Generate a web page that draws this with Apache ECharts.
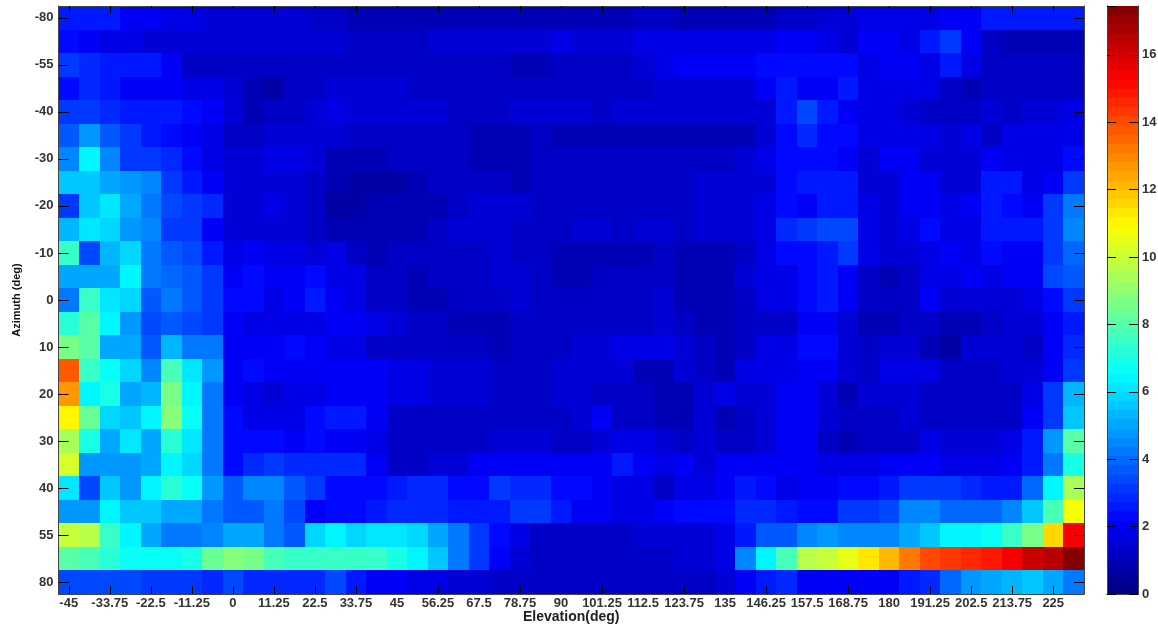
<!DOCTYPE html>
<html>
<head>
<meta charset="utf-8">
<style>html,body{margin:0;padding:0;background:#fff}#c{width:1158px;height:625px}</style>
<script src="https://cdn.jsdelivr.net/npm/echarts@6/dist/echarts.min.js"></script>
</head>
<body>
<div id="c"></div>
<script>
const elevation = ["-45","-39.375","-33.75","-28.125","-22.5","-16.875","-11.25","-5.625","0","5.625","11.25","16.875","22.5","28.125","33.75","39.375","45","50.625","56.25","61.875","67.5","73.125","78.75","84.375","90","95.625","101.25","106.875","112.5","118.125","123.75","129.375","135","140.625","146.25","151.875","157.5","163.125","168.75","174.375","180","185.625","191.25","196.875","202.5","208.125","213.75","219.375","225","230.625"];
const azimuth = ["-80","-65","-55","-45","-40","-35","-30","-25","-20","-15","-10","-5","0","5","10","15","20","25","30","35","40","45","55","65","80"];
const colorbarTicks = [0,2,4,6,8,10,12,14,16];
const maxValue = 17.45;

const az_m80 = [2.6,2.6,2.6,2.1,2.1,1.8,1.8,1.5,1.5,1.5, 1.5,1.5,1.2,1.2,1,1,1,1,1,1, 1,1,1,1,1,1,1,1,1.3,1.3, 1,1,1,1,1,1.3,1.3,1.5,1.5,1.8, 1.8,1.8,1.8,2,2,2.6,2.6,2.6,2.6,2.6];
const az_m65 = [2.2,2.1,1.8,1.8,1.6,1.6,1.4,1.4,1.4,1.4, 1.4,1.4,1.6,1.5,1.1,1.1,1.1,1.1,1.4,1.4, 1.4,1.4,1.4,1.4,1.9,1.5,1.5,1.5,1.7,1.7, 1.7,1.7,1.9,1.9,1.9,2.1,2.1,1.9,1.6,2.1, 2.1,1.8,2.5,3,2.1,1.1,.9,.9,.9,.9];
const az_m55 = [3.2,2.8,2.5,2.5,2.5,2,1.3,1.1,1.1,1.1, 1.1,1.3,1.1,1.15,1.15,1.15,1.15,1.15,1.15,1.15, 1.15,1.15,.85,.85,1.1,1.1,1.1,1.1,1.4,1.8, 2,2,2,2,2.3,2.3,2.3,2.3,2.3,1.9, 2.1,2.1,1.9,2.5,1.7,1.3,1.1,1.1,1.1,1.3];
const az_m45 = [2.4,2.9,2.7,2.1,2,2,1.7,1.7,1.4,.9, .7,1.2,1.1,1.6,1.6,1.6,1.6,1.2,1.2,1.2, 1.2,1.2,1.2,1.2,1.2,1.2,1.2,1.2,1.2,1.4, 1.4,1.4,1.4,1.6,2,2.6,2.1,2.1,2.6,1.9, 1.9,1.9,1.9,1.3,1,1.3,1.3,1.3,1.3,1.3];
const az_m40 = [3,3,2.8,2.6,2.6,2.6,2.3,2.1,1.4,1, 1.2,1.2,1.6,1.8,1.6,1.6,1.6,1.6,1.6,1.2, 1.2,1.2,1.5,1.5,1.5,1.5,1.2,1.5,1.5,1.5, 1.5,1.5,1.4,1.4,1.5,2.5,3.5,2.6,2.1,1.9, 1.9,1.6,1.3,1.3,1.1,1.6,1.3,1.6,1.6,1.9];
const az_m35 = [3.7,4.8,3.7,3,2.5,2.2,2,1.8,1.3,1.3, 1.4,1.5,1.4,1.5,1.2,1.2,1.2,1.2,1.2,1.2, .95,.95,.95,1.2,.9,.9,.9,.9,.9,.9, .9,1,1,1,1.4,2.3,2.8,2.2,2.2,1.9, 1.9,1.9,1.9,1.4,1.9,1.2,1.7,1.7,1.7,1.7];
const az_m30 = [4.6,6.3,4.4,3.2,3.2,2.8,2.2,1.8,1.4,1.4, 1.8,1.8,1.4,1,1,1,1.2,1.2,1.2,1.2, .95,.95,.95,1.2,1.2,1.2,1.2,1.2,1.2,1.2, 1.2,1.1,1.2,1.4,1.9,2.3,2.3,2.3,2.1,1.5, 2.1,2.1,1.5,1.5,1.5,2,1.8,1.8,1.8,2.2];
const az_m25 = [5.5,5.7,5,4.9,4.4,3,2.5,2,1.5,1.5, 1.5,1.5,1.1,1,.7,.7,.7,.95,1.2,1.2, 1.2,1.2,.95,1.2,1.2,1.2,1.2,1.2,1.2,1.2, 1.2,1.4,1.4,1.4,1.5,2.2,2.6,2.6,2.6,1.6, 1.4,2,2,1.5,1.5,2.5,2.5,1.8,2.1,3.2];
const az_m20 = [3.1,5.6,6.2,5.1,4.2,3.4,3.2,2.8,1.4,1.4, 1.8,1.5,1.1,.6,.6,.9,.9,.9,.9,1.1, 1.4,1.4,1.4,1.2,1.2,1.2,1.2,1.2,1.2,1.2, 1.2,1.4,1.4,1.4,1.8,2.3,2,2.6,2.6,1.8, 1.5,2.1,2.1,1.8,2.1,2.7,2.3,2.1,3,4.3];
const az_m15 = [5.4,6.2,5.8,4.7,4.6,3.1,3.1,2.1,1.4,1.4, 1.6,1.6,1.2,.95,.95,.95,.95,.95,1.2,1.45, 1.45,1.45,1.2,1.2,1.2,1.5,1.5,1.2,1.5,1.5, 1.2,1.45,1.5,1.5,1.8,2.9,3.1,3.3,3.3,1.9, 1.6,1.8,2.2,1.7,1.7,2.7,2.7,2.7,3,4.6];
const az_m10 = [7.4,3.5,5.4,5.9,4.1,3.6,3.4,2.7,1.7,2, 1.9,1.9,1.4,1.7,1.3,.95,1.3,1.3,1.3,1.3, 1.3,1.6,1.25,1.25,.95,.95,.95,.95,.95,1.2, .85,.85,.85,1.3,1.9,2.4,2.4,2.6,3,1.8, 1.4,1.4,1.8,2,1.8,2.4,2,2,3.2,3.9];
const az_m5 = [5.1,5.1,5.1,6.5,4.1,4,3.6,3.2,2,2.2, 2.1,2.1,2.2,1.9,1.7,1.3,1.3,1,1.3,1.3, 1.3,1.6,1.6,1.3,1,1,1.3,1.3,1.3,1.3, .85,.85,.9,1.4,1.9,1.9,2.3,2.6,2,1.3, .9,1.3,1.9,1.9,2.1,1.9,2.1,2.1,3.4,3.6];
const az_0 = [4.2,7.5,6.2,5.8,3.6,4.2,3.6,3.2,2.3,2.3, 1.9,2.1,2.5,2.1,1.7,1.3,1.3,.95,.95,1.2, 1.2,1.2,1.5,1.3,1.3,1.3,1.3,1.3,1.3,1.6, .9,.9,.9,1.3,1.8,1.8,2.4,2.7,2,1.2, 1.2,1.2,2,1.5,1.5,1.5,1.5,1.8,2.4,3.1];
const az_5 = [7.2,8,6.5,4.8,3.5,3.6,3.3,3.2,2,1.9, 1.9,1.9,1.9,2,2,1.7,1.6,1.2,1.2,.95, .95,.95,1.15,1.15,1.15,1.15,1.15,1.15,1.15,1.5, 1.2,.9,.85,1.2,1.3,1.3,2,2,1.4,.9, 1,1.3,1.3,1,1,1.2,1.6,1.6,2,2.5];
const az_10 = [8.5,8,5.1,5.1,3.6,5.2,4.2,4.1,2,2, 2.1,2.4,2.1,1.9,1.9,1.3,1.3,1.15,1.15,1.15, 1.15,.9,1.15,1.15,1.15,1.5,1.5,1.8,1.8,1.8, 1.5,1.2,.9,1.1,1.7,1.7,2.2,2.2,1.6,1.1, 1.4,1.4,1,.7,1.4,1.4,1.4,1.2,2,2.9];
const az_15 = [13.7,7.6,6.8,5.8,4.4,7.8,6,4.8,2,2.2, 2.1,2.1,2.1,2,2,2,1.7,1.7,1.4,1.4, 1.4,1.15,1.15,1.15,1.5,1.6,1.4,1.4,1,1, 1.4,1.2,1,1.7,1.9,1.9,2,2,1.4,1.2, 1.7,1.7,1.7,1.2,1.2,1.2,1.4,1.4,2.1,3.2];
const az_20 = [12.8,6.3,6.9,5,5.2,8.6,6.3,4.2,2,1.8, 1.6,1.8,1.8,2,2,2,1.9,1.9,1.4,1.4, 1.4,1.1,1.1,1.1,1.5,1.5,1.3,1.3,1.3,1.05, 1.05,1.4,1.7,1.4,1.4,2.1,2.1,1.6,1,1.5, 1.5,1.5,1.3,1.3,1.3,1.3,1.3,1.9,3,5.4];
const az_25 = [11,8.2,5.9,5.6,6.3,8.8,6.8,4.2,2.2,1.9, 1.8,1.8,2.3,2.5,2.5,2,1.2,1.2,1.2,1.2, 1.2,1.2,1.2,1.2,1.2,1.5,2,1.3,1.3,1.05, 1.05,1.5,1,1.3,1.5,2.1,2.1,1.5,1.3,1.3, 1.3,1.5,1.2,1.2,1.3,1.3,1.3,2,3.2,5.5];
const az_30 = [9.5,6.9,5.1,6,5,7.1,6.1,4.2,2.2,2.2, 2.2,2,2.3,2.1,2.1,1.8,1.2,1.2,1.2,1.2, 1.2,1.5,1.5,1.5,1.3,1.3,1.4,1.9,1.7,1.5, 1.1,1.4,1.3,1.3,1.5,2,2,1.3,1,1.3, 1.3,1.3,1.9,1.6,1.6,1.6,1.9,2.6,4.7,8];
const az_35 = [10.2,4.9,4.9,4.9,5.1,6.5,5.8,4.2,2.4,2.9, 3,2.9,2.8,2.9,2.9,2.1,1.3,1.2,1.5,1.5, 2,2,2,2,2,2,2,2.6,2,1.9, 2,1.6,2,2,2,2,2,1.8,1.8,1.8, 2,2,2,1.8,1.8,1.8,2.1,2.7,4.2,7];
const az_40 = [6.1,3.5,5.5,4.8,6.5,7.1,6.8,4.7,3.6,4.4, 4.4,3.7,3.1,2.4,2.4,2.4,2.6,2.8,2.8,2.4, 2.4,3,2.9,2.9,2.2,2.2,2,1.7,1.8,1.3, 1.9,1.9,2,2.6,2.2,1.8,2,2,2.2,2.2, 2.7,3,3,3,2.8,2.7,2.7,3.9,6.4,9.4];
const az_45 = [4.8,4.8,6.4,5.5,5.5,5,5,4.3,3.7,3.7, 4.2,3.3,2.1,2.4,2.4,2.6,2.9,2.9,2.9,2.6, 2.6,2.6,3.2,3,2.6,2.1,2.1,1.8,1.8,2.1, 2.2,2.2,2.3,2.9,2.9,2.5,2.2,2.4,3,3.2, 3.3,4.6,4.6,3.9,3.9,3.9,4.6,5.7,7.8,10.9];
const az_55 = [10,9.6,7.6,6.5,5,4.2,4.2,4.6,5.1,5.1, 4.2,3.7,5.8,6.3,5.9,6.2,6.2,5.9,5,4.3, 3.1,2.3,1.8,1.3,1.3,1.3,1.1,1.3,1.5,1.5, 1.5,1.5,1.9,2.5,3.7,3.8,4.6,4.9,4.5,4.5, 4.5,5,5.7,6.4,6.4,6.8,7.5,8.7,11.5,15.3];
const az_65 = [8,7.7,7.1,6.8,6.8,6.8,7,8.3,8.8,8.5, 7.8,7.5,7.4,7.5,7.5,7.5,7,6.5,5.5,4.2, 3.2,2,1.4,1.1,1.1,1.1,1.1,1.3,1.3,1.3, 1.5,1.5,1.8,4.4,6.3,7.8,9.7,10,10.6,11.2, 12,13.3,14,14.2,14.6,14.8,15.3,16.1,16.6,17.45];
const az_80 = [3.4,3.4,3.4,3.4,3.2,3.2,3.1,2.9,3.3,2.9, 2.9,2.9,2.8,3.3,2.5,2.1,2.1,1.9,1.8,1.5, 1.5,1.3,1.3,1.15,1.15,1.15,1.15,1.2,1.2,1.2, 1.2,1.2,1.5,2.1,2.5,2.9,2,2,2,2, 2,2.5,2.8,3.9,4.8,5,5.3,5.6,5,4.2];

const rows = [az_m80,az_m65,az_m55,az_m45,az_m40,az_m35,az_m30,az_m25,az_m20,az_m15,az_m10,az_m5,az_0,az_5,az_10,az_15,az_20,az_25,az_30,az_35,az_40,az_45,az_55,az_65,az_80];

// MATLAB-style 64-step jet colormap
function jet(t){
  const c = x => Math.round(255*Math.max(0,Math.min(1,x)));
  return 'rgb('+c(1.5-Math.abs(4*t-3))+','+c(1.5-Math.abs(4*t-2))+','+c(1.5-Math.abs(4*t-1))+')';
}
const LEVELS = 64;
const pieces = [];
const levelNames = [];
const levelData = [];
for(let i=0;i<LEVELS;i++){
  const lo = i*maxValue/LEVELS, hi = (i+1)*maxValue/LEVELS;
  const p = {gte:lo, color:jet((i+0.5)/LEVELS)};
  if(i<LEVELS-1) p.lt = hi; else p.lte = maxValue+1;
  pieces.push(p);
  levelNames.push(String(i));
  levelData.push([0,i,(lo+hi)/2]);
}
const cells = [];
rows.forEach((r,y)=>r.forEach((v,x)=>cells.push([x,y,v])));

// Cell drawn through the axis scales, snapped to whole pixels so no seams show
function renderCell(params, api){
  const c = api.coord([api.value(0), api.value(1)]);
  const s = api.size([1,1]);
  const x0 = Math.round(c[0]-s[0]/2), x1 = Math.round(c[0]+s[0]/2);
  const y0 = Math.round(c[1]-s[1]/2), y1 = Math.round(c[1]+s[1]/2);
  return {type:'rect',shape:{x:x0,y:y0,width:x1-x0,height:y1-y0},style:{fill:api.visual('color')}};
}

const FONT = '"Liberation Sans", Arial, sans-serif';
const axisCol = '#444';
const line = {show:true,lineStyle:{color:axisCol,width:1}};
const tick = (len)=>({show:true,inside:true,length:len,interval:1,alignWithLabel:true,lineStyle:{color:'#000',width:1}});
const lab = {fontFamily:FONT,fontWeight:'bold',fontSize:13,color:'#333',interval:1};

const chart = echarts.init(document.getElementById('c'),null,{renderer:'canvas'});
chart.setOption({
  animation:false,
  backgroundColor:'#fff',
  grid:[
    {left:58.5,right:74,top:6,bottom:31,containLabel:false,outerBoundsMode:'none'},
    {left:1107,width:31,top:6,bottom:31,containLabel:false,outerBoundsMode:'none'}
  ],
  tooltip:{show:false},
  visualMap:{type:'piecewise',show:false,dimension:2,seriesIndex:[0,1],pieces:pieces},
  xAxis:[
    {type:'category',gridIndex:0,position:'bottom',data:elevation,axisLine:line,axisTick:tick(8),axisLabel:Object.assign({},lab,{margin:3}),
      splitLine:{show:false},name:'Elevation(deg)',nameLocation:'middle',nameGap:16.5,nameMoveOverlap:false,
      nameTextStyle:{fontFamily:FONT,fontWeight:'bold',fontSize:14,color:'#222'},z:5},
    {type:'category',gridIndex:0,position:'top',data:elevation,axisLine:line,axisTick:tick(7),axisLabel:{show:false},splitLine:{show:false},z:5},
    {type:'category',gridIndex:1,position:'bottom',data:['c'],axisLine:line,axisTick:{show:false},axisLabel:{show:false},splitLine:{show:false},z:5},
    {type:'category',gridIndex:1,position:'top',data:['c'],axisLine:line,axisTick:{show:false},axisLabel:{show:false},splitLine:{show:false},z:5}
  ],
  yAxis:[
    {type:'category',gridIndex:0,position:'left',inverse:true,data:azimuth,axisLine:line,axisTick:tick(10),axisLabel:Object.assign({},lab,{margin:5}),
      splitLine:{show:false},name:'Azimuth (deg)',nameLocation:'middle',nameGap:36,nameRotate:90,nameMoveOverlap:false,
      nameTextStyle:{fontFamily:FONT,fontWeight:'bold',fontSize:11,color:'#111'},z:5},
    {type:'category',gridIndex:0,position:'right',inverse:true,data:azimuth,axisLine:line,axisTick:tick(10),axisLabel:{show:false},splitLine:{show:false},z:5},
    {type:'category',gridIndex:1,show:false,data:levelNames},
    {type:'value',gridIndex:1,position:'right',min:0,max:maxValue,interval:colorbarTicks[1]-colorbarTicks[0],axisLine:line,
      axisTick:{show:true,inside:true,length:9,lineStyle:{color:'#000',width:1}},
      axisLabel:{fontFamily:FONT,fontWeight:'bold',fontSize:13,color:'#333',margin:4,showMaxLabel:false,showMinLabel:true},splitLine:{show:false},z:5},
    {type:'value',gridIndex:1,position:'left',min:0,max:maxValue,interval:colorbarTicks[1]-colorbarTicks[0],axisLine:line,
      axisTick:{show:true,inside:true,length:9,lineStyle:{color:'#000',width:1}},axisLabel:{show:false},splitLine:{show:false},z:5}
  ],
  series:[
    {type:'custom',xAxisIndex:0,yAxisIndex:0,data:cells,renderItem:renderCell,encode:{x:0,y:1},silent:true,z:2},
    {type:'custom',xAxisIndex:2,yAxisIndex:2,data:levelData,renderItem:renderCell,encode:{x:0,y:1},silent:true,z:2}
  ]
});
</script>
</body>
</html>
